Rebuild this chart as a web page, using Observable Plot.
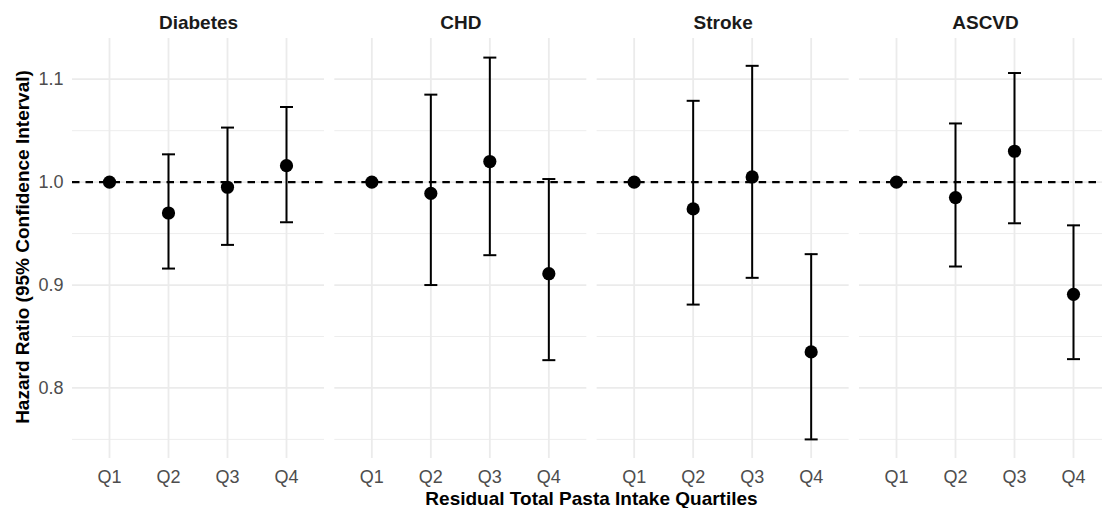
<!DOCTYPE html>
<html>
<head>
<meta charset="utf-8">
<script src="https://cdn.jsdelivr.net/npm/d3@7"></script>
<script src="https://cdn.jsdelivr.net/npm/@observablehq/plot@0.6"></script>
<style>
  html, body { margin: 0; padding: 0; background: #fff; overflow: hidden; }
  #wrap { position: relative; width: 1102px; height: 508px; overflow: hidden; font-family: "Liberation Sans", Arial, sans-serif; }
  #chart { position: absolute; left: 0; top: 0; width: 1111px; }
  #chart svg { max-width: none !important; width: 1111px; height: 508px; }
  .xtitle { position: absolute; left: 72px; width: 1039px; top: 489px; text-align: center; font-size: 19px; line-height: 19px; font-weight: bold; color: #000; white-space: nowrap; }
  .ytitle { position: absolute; left: 21.5px; top: 247px; transform: translate(-50%, -50%) rotate(-90deg); font-size: 19px; line-height: 19px; font-weight: bold; color: #000; white-space: nowrap; }
  svg g[aria-label="fx-axis tick label"] text { font-weight: bold; font-size: 19px; }
  svg g[aria-label="x-axis tick label"] text, svg g[aria-label="y-axis tick label"] text { font-size: 18px; }
</style>
</head>
<body>
<div id="wrap">
  <div id="chart"></div>
  <div class="xtitle">Residual Total Pasta Intake Quartiles</div>
  <div class="ytitle">Hazard Ratio (95% Confidence Interval)</div>
</div>
<script>
// ---- Data ----
const outcomes = ["Diabetes", "CHD", "Stroke", "ASCVD"];
const quartiles = ["Q1", "Q2", "Q3", "Q4"];

const diabetesHR    = [1.000, 0.970, 0.995, 1.016];
const diabetesLower = [null,  0.916, 0.939, 0.961];
const diabetesUpper = [null,  1.027, 1.053, 1.073];

const chdHR    = [1.000, 0.989, 1.020, 0.911];
const chdLower = [null,  0.900, 0.929, 0.827];
const chdUpper = [null,  1.085, 1.121, 1.003];

const strokeHR    = [1.000, 0.974, 1.005, 0.835];
const strokeLower = [null,  0.881, 0.907, 0.750];
const strokeUpper = [null,  1.079, 1.113, 0.930];

const ascvdHR    = [1.000, 0.985, 1.030, 0.891];
const ascvdLower = [null,  0.918, 0.960, 0.828];
const ascvdUpper = [null,  1.057, 1.106, 0.958];

const yMajorTicks = [0.8, 0.9, 1.0, 1.1];
const yMinorTicks = [0.75, 0.85, 0.95, 1.05];
const referenceHR = 1;

// ---- Build table ----
const series = [
  [diabetesHR, diabetesLower, diabetesUpper],
  [chdHR, chdLower, chdUpper],
  [strokeHR, strokeLower, strokeUpper],
  [ascvdHR, ascvdLower, ascvdUpper]
];
const rows = [];
outcomes.forEach((o, i) => {
  const [hr, lo, up] = series[i];
  quartiles.forEach((q, j) => rows.push({outcome: o, quartile: q, hr: hr[j], lower: lo[j], upper: up[j]}));
});
const ciRows = rows.filter(d => d.lower != null);

// y domain like ggplot: data range expanded by 5%
const allVals = rows.flatMap(d => [d.hr, d.lower, d.upper]).filter(v => v != null);
const [ymin, ymax] = d3.extent(allVals);
const pad = (ymax - ymin) * 0.05;

// horizontal cap symbol
const capSymbol = {
  draw(context, size) {
    const w = Math.sqrt(size / Math.PI);
    context.moveTo(-w, 0);
    context.lineTo(w, 0);
  }
};

const chart = Plot.plot({
  width: 1111,
  height: 508,
  marginLeft: 72,
  marginRight: 0,
  marginTop: 38,
  marginBottom: 50,
  style: {fontFamily: "'Liberation Sans', Arial, sans-serif", background: "white", maxWidth: "none"},
  fx: {domain: outcomes, paddingInner: 0.0394, paddingOuter: 0, round: false, axis: null, label: null},
  x: {type: "point", domain: quartiles, padding: 0.6, axis: null, label: null},
  y: {domain: [ymin - pad, ymax + pad], axis: null, label: null},
  marks: [
    Plot.ruleY(yMinorTicks, {stroke: "#EBEBEB", strokeWidth: 0.9}),
    Plot.ruleY(yMajorTicks, {stroke: "#EBEBEB", strokeWidth: 1.8}),
    Plot.ruleX(quartiles, {x: d => d, stroke: "#EBEBEB", strokeWidth: 1.8}),
    Plot.ruleY([referenceHR], {stroke: "black", strokeWidth: 2.1, strokeDasharray: "7.5,6"}),
    Plot.ruleX(ciRows, {fx: "outcome", x: "quartile", y1: "lower", y2: "upper", stroke: "black", strokeWidth: 2}),
    Plot.dot(ciRows, {fx: "outcome", x: "quartile", y: "lower", symbol: capSymbol, r: 6.5, fill: "none", stroke: "black", strokeWidth: 2}),
    Plot.dot(ciRows, {fx: "outcome", x: "quartile", y: "upper", symbol: capSymbol, r: 6.5, fill: "none", stroke: "black", strokeWidth: 2}),
    Plot.dot(rows, {fx: "outcome", x: "quartile", y: "hr", r: 6.6, fill: "black", stroke: "none"}),
    Plot.axisY({ticks: yMajorTicks, tickFormat: d => d.toFixed(1), tickSize: 0, tickPadding: 9, fontSize: 18, color: "#4D4D4D", label: null}),
    Plot.axisX({tickSize: 0, tickPadding: 12, fontSize: 18, color: "#4D4D4D", label: null}),
    Plot.axisFx({anchor: "top", tickSize: 0, tickPadding: 10, fontSize: 19, fontWeight: "bold", color: "#1A1A1A", label: null})
  ]
});
document.getElementById("chart").appendChild(chart);
</script>
</body>
</html>
